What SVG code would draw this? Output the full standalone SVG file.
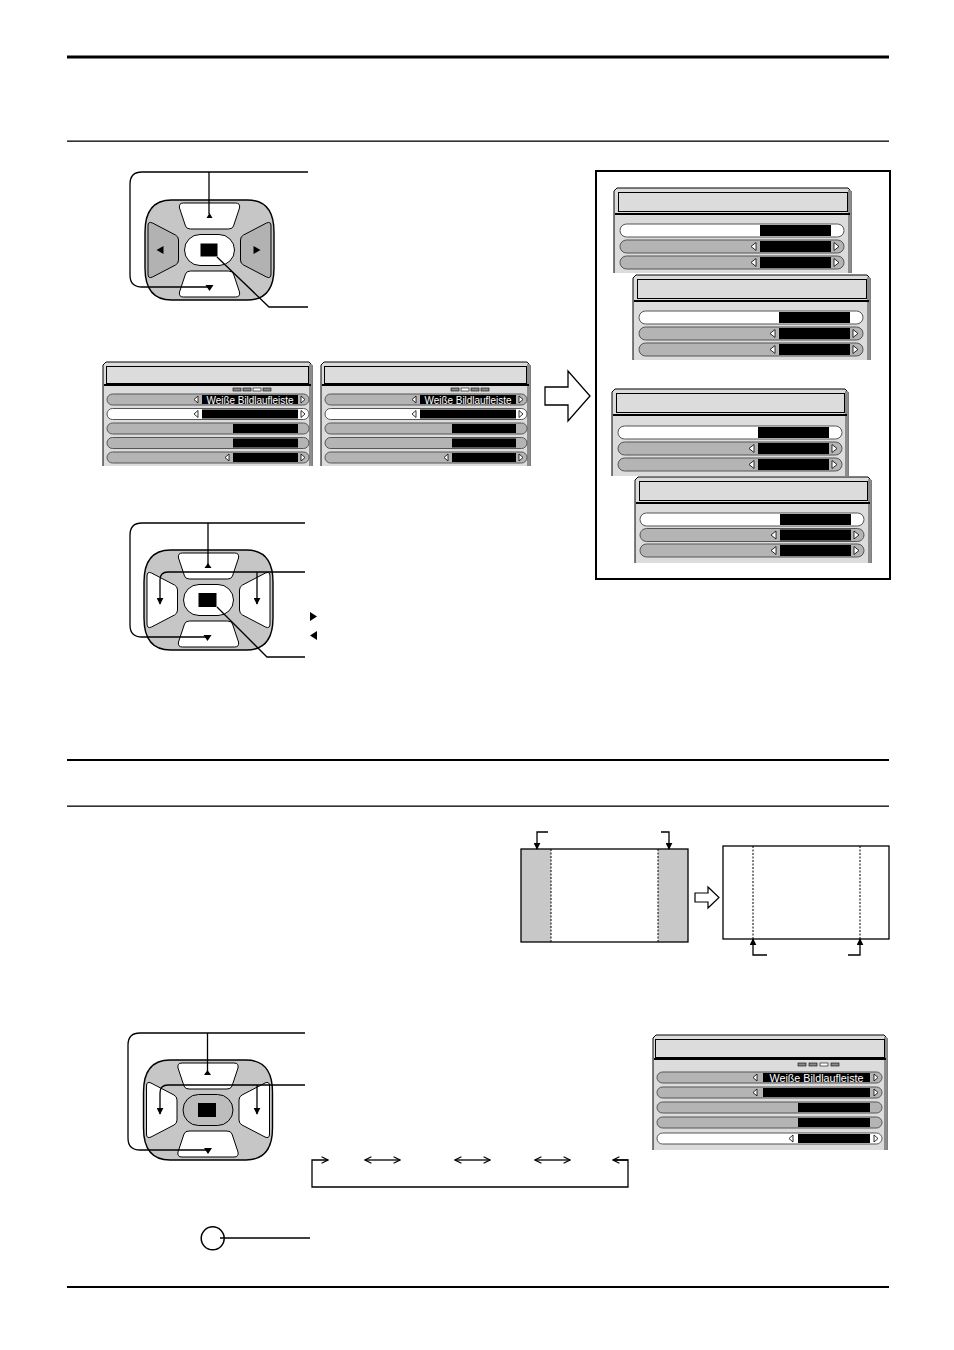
<svg xmlns="http://www.w3.org/2000/svg" xmlns:xlink="http://www.w3.org/1999/xlink" width="954" height="1350" viewBox="0 0 954 1350">
<style>
.ln{stroke:#000;stroke-width:1.3;fill:none}
.og{fill:#c6c6c6;stroke:#000;stroke-width:1.4}
.bw{fill:#fff;stroke:#000;stroke-width:1}
.bg{fill:#b2b2b2;stroke:#000;stroke-width:1}
.cg{fill:#bdbdbd;stroke:#000;stroke-width:1}
.mf{fill:#dcdcdc;stroke:#000;stroke-width:1}
.ms{fill:#8c8c8c}
.mt{fill:#dcdcdc;stroke:#000;stroke-width:1}
.rg{fill:#b4b4b4;stroke:#555;stroke-width:1}
.rw{fill:#fff;stroke:#555;stroke-width:1}
.bk{fill:#000}
.tri{fill:#fff;stroke:#000;stroke-width:0.8}
.ind{fill:#8a8a8a;stroke:#000;stroke-width:0.6}
.indw{fill:#fff;stroke:#000;stroke-width:0.6}
.wt{font-family:"Liberation Sans",Arial,sans-serif;font-size:10.5px;fill:#fff;text-anchor:middle}
.blk{fill:#000;stroke:none}
.dot{stroke:#000;stroke-width:1;stroke-dasharray:2,1.5;fill:none}
</style>
<defs>
<path id="pOuter" d="M-38,-50 H38 C58,-50 64.5,-36 64.5,-18 V18 C64.5,36 58,50 38,50 H-38 C-58,50 -64.5,36 -64.5,18 V-18 C-64.5,-36 -58,-50 -38,-50 Z"/>
<path id="pUp" d="M-26,-47 H26 Q31,-47 30,-42 L24,-24 Q23,-21 19,-21 H-19 Q-23,-21 -24,-24 L-30,-42 Q-31,-47 -26,-47 Z"/>
<path id="pLeft" d="M-57,-27 L-34,-15 Q-31,-13.5 -31,-10 V10 Q-31,13.5 -34,15 L-57,27 Q-61.5,29 -61.5,24 V-24 Q-61.5,-29 -57,-27 Z"/>
<rect id="pCenter" x="-25" y="-15.5" width="50" height="31" rx="15.5"/>
<marker id="ah" viewBox="0 0 10 10" refX="9" refY="5" markerWidth="7" markerHeight="7" orient="auto" markerUnits="userSpaceOnUse">
<path d="M0,0 L10,5 L0,10 Z" fill="#000"/>
</marker>
<marker id="oa" viewBox="0 0 10 10" refX="9" refY="5" markerWidth="8" markerHeight="8" orient="auto" markerUnits="userSpaceOnUse">
<path d="M1,1 L9,5 L1,9" fill="none" stroke="#000" stroke-width="1.4"/>
</marker>
</defs>

<g id="rules">
<rect x="67" y="55.5" width="822" height="3" fill="#000"/>
<rect x="67" y="140.5" width="822" height="1.3" fill="#000"/>
<rect x="67" y="759" width="822" height="2" fill="#000"/>
<rect x="67" y="805.5" width="822" height="1.3" fill="#000"/>
<rect x="67" y="1286" width="822" height="2" fill="#000"/>
</g>

<g id="remote1" transform="translate(209.5,250)">
<use xlink:href="#pOuter" class="og"/>
<use xlink:href="#pUp" class="bw"/>
<use xlink:href="#pUp" class="bw" transform="scale(1,-1)"/>
<use xlink:href="#pLeft" class="bg"/>
<use xlink:href="#pLeft" class="bg" transform="scale(-1,1)"/>
<use xlink:href="#pCenter" class="bw"/>
<rect x="-9" y="-6.5" width="17" height="13" class="blk"/>
<polygon points="-3,-32 3,-32 0,-37" class="blk"/>
<polygon points="-4,35 4,35 0,41" class="blk"/>
<polygon points="-53,0 -46,-4 -46,4" class="blk"/>
<polygon points="44,-4 44,4 51,0" class="blk"/>
</g>

<g id="remote2" transform="translate(208.5,600)">
<use xlink:href="#pOuter" class="og"/>
<use xlink:href="#pUp" class="bw"/>
<use xlink:href="#pUp" class="bw" transform="scale(1,-1)"/>
<use xlink:href="#pLeft" class="bw"/>
<use xlink:href="#pLeft" class="bw" transform="scale(-1,1)"/>
<use xlink:href="#pCenter" class="bw"/>
<rect x="-10" y="-7" width="18" height="14" class="blk"/>
<polygon points="-4,-32 3,-32 -0.5,-37" class="blk"/>
<polygon points="-5,35 3,35 -1,41" class="blk"/>
</g>

<g id="remote3" transform="translate(208,1110)">
<use xlink:href="#pOuter" class="og"/>
<use xlink:href="#pUp" class="bw"/>
<use xlink:href="#pUp" class="bw" transform="scale(1,-1)"/>
<use xlink:href="#pLeft" class="bw"/>
<use xlink:href="#pLeft" class="bw" transform="scale(-1,1)"/>
<use xlink:href="#pCenter" class="cg"/>
<rect x="-10" y="-7" width="18" height="14" class="blk"/>
<polygon points="-4,-35 3,-35 -0.5,-40" class="blk"/>
<polygon points="-4,38 4,38 0,44" class="blk"/>
</g>

<g id="panel1">
<path class="mf" d="M103,466 V365 L106,362 H309 L312,365 V466"/>
<rect class="ms" x="309" y="364" width="3" height="102"/>
<rect class="mt" x="106.5" y="366.5" width="202" height="17"/>
<line x1="104" y1="385" x2="311" y2="385" stroke="#000" stroke-width="2"/>
<rect class="ind" x="233" y="388" width="8" height="3"/>
<rect class="ind" x="243" y="388" width="8" height="3"/>
<rect class="indw" x="253" y="388" width="8" height="3"/>
<rect class="ind" x="263" y="388" width="8" height="3"/>
<rect class="rg" x="107" y="394" width="202" height="11" rx="5.5"/>
<rect class="bk" x="202" y="395" width="96" height="9"/>
<text class="wt" x="250" y="403.5" textLength="87" lengthAdjust="spacingAndGlyphs">Weiße Bildlaufleiste</text>
<polygon class="tri" points="194,399.5 198,396 198,403"/>
<polygon class="tri" points="305,399.5 301,396 301,403"/>
<rect class="rw" x="107" y="408.5" width="202" height="11" rx="5.5"/>
<rect class="bk" x="202" y="409.5" width="96" height="9"/>
<polygon class="tri" points="194,414 198,410.5 198,417.5"/>
<polygon class="tri" points="305,414 301,410.5 301,417.5"/>
<rect class="rg" x="107" y="423" width="202" height="11" rx="5.5"/>
<rect class="bk" x="233" y="424" width="65" height="9"/>
<rect class="rg" x="107" y="437.5" width="202" height="11" rx="5.5"/>
<rect class="bk" x="233" y="438.5" width="65" height="9"/>
<rect class="rg" x="107" y="452" width="202" height="11" rx="5.5"/>
<rect class="bk" x="233" y="453" width="65" height="9"/>
<polygon class="tri" points="225,457.5 229,454 229,461"/>
<polygon class="tri" points="305,457.5 301,454 301,461"/>
</g>

<g id="panel2">
<path class="mf" d="M321,466 V365 L324,362 H527 L530,365 V466"/>
<rect class="ms" x="527" y="364" width="3" height="102"/>
<rect class="mt" x="324.5" y="366.5" width="202" height="17"/>
<line x1="322" y1="385" x2="529" y2="385" stroke="#000" stroke-width="2"/>
<rect class="ind" x="451" y="388" width="8" height="3"/>
<rect class="indw" x="461" y="388" width="8" height="3"/>
<rect class="ind" x="471" y="388" width="8" height="3"/>
<rect class="ind" x="481" y="388" width="8" height="3"/>
<rect class="rg" x="325" y="394" width="202" height="11" rx="5.5"/>
<rect class="bk" x="420" y="395" width="96" height="9"/>
<text class="wt" x="468" y="403.5" textLength="87" lengthAdjust="spacingAndGlyphs">Weiße Bildlaufleiste</text>
<polygon class="tri" points="412,399.5 416,396 416,403"/>
<polygon class="tri" points="523,399.5 519,396 519,403"/>
<rect class="rw" x="325" y="408.5" width="202" height="11" rx="5.5"/>
<rect class="bk" x="420" y="409.5" width="96" height="9"/>
<polygon class="tri" points="412,414 416,410.5 416,417.5"/>
<polygon class="tri" points="523,414 519,410.5 519,417.5"/>
<rect class="rg" x="325" y="423" width="202" height="11" rx="5.5"/>
<rect class="bk" x="452" y="424" width="64" height="9"/>
<rect class="rg" x="325" y="437.5" width="202" height="11" rx="5.5"/>
<rect class="bk" x="452" y="438.5" width="64" height="9"/>
<rect class="rg" x="325" y="452" width="202" height="11" rx="5.5"/>
<rect class="bk" x="452" y="453" width="64" height="9"/>
<polygon class="tri" points="444,457.5 448,454 448,461"/>
<polygon class="tri" points="523,457.5 519,454 519,461"/>
</g>

<g id="bigArrow">
<polygon points="545,387 568,387 568,371 590,396 568,421 568,405 545,405" fill="#fff" stroke="#000" stroke-width="1.3"/>
</g>

<g id="rightFrame">
<rect x="596" y="171" width="294" height="408" fill="none" stroke="#000" stroke-width="2"/>
</g>

<g id="menuA">
<path class="mf" d="M614,273 V191 L617,188 H848 L851,191 V273"/>
<rect class="ms" x="848" y="190" width="3" height="83"/>
<rect class="mt" x="618.5" y="192.5" width="229" height="19"/>
<line x1="615" y1="214" x2="850" y2="214" stroke="#000" stroke-width="2"/>
<rect class="rw" x="620" y="224" width="224" height="13" rx="6.5"/>
<rect class="bk" x="760" y="225" width="71" height="11"/>
<rect class="rg" x="620" y="240" width="224" height="13" rx="6.5"/>
<rect class="bk" x="760" y="241" width="71" height="11"/>
<polygon class="tri" points="751,246.5 756,242.5 756,250.5"/>
<polygon class="tri" points="839,246.5 834,242.5 834,250.5"/>
<rect class="rg" x="620" y="256" width="224" height="13" rx="6.5"/>
<rect class="bk" x="760" y="257" width="71" height="11"/>
<polygon class="tri" points="751,262.5 756,258.5 756,266.5"/>
<polygon class="tri" points="839,262.5 834,258.5 834,266.5"/>
</g>

<g id="menuB">
<path class="mf" d="M633,360 V278 L636,275 H867 L870,278 V360"/>
<rect class="ms" x="867" y="277" width="3" height="83"/>
<rect class="mt" x="637.5" y="279.5" width="229" height="19"/>
<line x1="634" y1="301" x2="869" y2="301" stroke="#000" stroke-width="2"/>
<rect class="rw" x="639" y="311" width="224" height="13" rx="6.5"/>
<rect class="bk" x="779" y="312" width="71" height="11"/>
<rect class="rg" x="639" y="327" width="224" height="13" rx="6.5"/>
<rect class="bk" x="779" y="328" width="71" height="11"/>
<polygon class="tri" points="770,333.5 775,329.5 775,337.5"/>
<polygon class="tri" points="858,333.5 853,329.5 853,337.5"/>
<rect class="rg" x="639" y="343" width="224" height="13" rx="6.5"/>
<rect class="bk" x="779" y="344" width="71" height="11"/>
<polygon class="tri" points="770,349.5 775,345.5 775,353.5"/>
<polygon class="tri" points="858,349.5 853,345.5 853,353.5"/>
</g>

<g id="menuC">
<path class="mf" d="M612,476 V392 L615,389 H845 L848,392 V476"/>
<rect class="ms" x="845" y="391" width="3" height="85"/>
<rect class="mt" x="616.5" y="393.5" width="228" height="19"/>
<line x1="613" y1="415" x2="847" y2="415" stroke="#000" stroke-width="2"/>
<rect class="rw" x="618" y="426" width="224" height="13" rx="6.5"/>
<rect class="bk" x="758" y="427" width="71" height="11"/>
<rect class="rg" x="618" y="442" width="224" height="13" rx="6.5"/>
<rect class="bk" x="758" y="443" width="71" height="11"/>
<polygon class="tri" points="749,448.5 754,444.5 754,452.5"/>
<polygon class="tri" points="837,448.5 832,444.5 832,452.5"/>
<rect class="rg" x="618" y="458" width="224" height="13" rx="6.5"/>
<rect class="bk" x="758" y="459" width="71" height="11"/>
<polygon class="tri" points="749,464.5 754,460.5 754,468.5"/>
<polygon class="tri" points="837,464.5 832,460.5 832,468.5"/>
</g>

<g id="menuD">
<path class="mf" d="M635,563 V480 L638,477 H868 L871,480 V563"/>
<rect class="ms" x="868" y="479" width="3" height="84"/>
<rect class="mt" x="639.5" y="481.5" width="228" height="19"/>
<line x1="636" y1="503" x2="870" y2="503" stroke="#000" stroke-width="2"/>
<rect class="rw" x="640" y="513" width="224" height="13" rx="6.5"/>
<rect class="bk" x="780" y="514" width="71" height="11"/>
<rect class="rg" x="640" y="528.5" width="224" height="13" rx="6.5"/>
<rect class="bk" x="780" y="529.5" width="71" height="11"/>
<polygon class="tri" points="771,535 776,531 776,539"/>
<polygon class="tri" points="859,535 854,531 854,539"/>
<rect class="rg" x="640" y="544" width="224" height="13" rx="6.5"/>
<rect class="bk" x="780" y="545" width="71" height="11"/>
<polygon class="tri" points="771,550.5 776,546.5 776,554.5"/>
<polygon class="tri" points="859,550.5 854,546.5 854,554.5"/>
</g>

<g id="screenBefore">
<rect x="521" y="849" width="167" height="93" fill="#fff"/>
<rect x="521" y="849" width="30" height="93" fill="#c8c8c8"/>
<rect x="658" y="849" width="30" height="93" fill="#c8c8c8"/>
<line class="dot" x1="551" y1="849" x2="551" y2="942"/>
<line class="dot" x1="658" y1="849" x2="658" y2="942"/>
<rect x="521" y="849" width="167" height="93" fill="none" stroke="#000" stroke-width="1.3"/>
</g>

<g id="smallArrow">
<polygon points="695,893 708,893 708,887 719,897.5 708,908 708,902 695,902" fill="#fff" stroke="#000" stroke-width="1.2"/>
</g>

<g id="screenAfter">
<rect x="723" y="846" width="166" height="93" fill="#fff" stroke="#000" stroke-width="1.3"/>
<line class="dot" x1="753" y1="846" x2="753" y2="939"/>
<line class="dot" x1="860" y1="846" x2="860" y2="939"/>
</g>

<g id="menuBottom">
<path class="mf" d="M653,1150 V1038 L656,1035 H884 L887,1038 V1150"/>
<rect class="ms" x="884" y="1037" width="3" height="113"/>
<rect class="mt" x="655.5" y="1039.5" width="229" height="18"/>
<line x1="654" y1="1059" x2="886" y2="1059" stroke="#000" stroke-width="2"/>
<rect class="ind" x="798" y="1063" width="8" height="3"/>
<rect class="ind" x="809" y="1063" width="8" height="3"/>
<rect class="indw" x="820" y="1063" width="8" height="3"/>
<rect class="ind" x="831" y="1063" width="8" height="3"/>
<rect class="rg" x="657" y="1072" width="225" height="11" rx="5.5"/>
<rect class="bk" x="763" y="1073" width="107" height="9"/>
<text class="wt" x="816.5" y="1081.5" textLength="94" lengthAdjust="spacingAndGlyphs">Weiße Bildlaufleiste</text>
<polygon class="tri" points="753,1077.5 757,1074 757,1081"/>
<polygon class="tri" points="878,1077.5 874,1074 874,1081"/>
<rect class="rg" x="657" y="1087" width="225" height="11" rx="5.5"/>
<rect class="bk" x="763" y="1088" width="107" height="9"/>
<polygon class="tri" points="753,1092.5 757,1089 757,1096"/>
<polygon class="tri" points="878,1092.5 874,1089 874,1096"/>
<rect class="rg" x="657" y="1102" width="225" height="11" rx="5.5"/>
<rect class="bk" x="798" y="1103" width="72" height="9"/>
<rect class="rg" x="657" y="1117" width="225" height="11" rx="5.5"/>
<rect class="bk" x="798" y="1118" width="72" height="9"/>
<rect class="rw" x="657" y="1133" width="225" height="11" rx="5.5"/>
<rect class="bk" x="798" y="1134" width="72" height="9"/>
<polygon class="tri" points="789,1138.5 793,1135 793,1142"/>
<polygon class="tri" points="878,1138.5 874,1135 874,1142"/>
</g>

<g id="circleNode">
<circle cx="212.7" cy="1238.3" r="11.5" fill="#fff" stroke="#000" stroke-width="1.5"/>
</g>

<g id="connectors">
<path class="ln" d="M209,287 H142 Q130,287 130,275 V184 Q130,172 142,172 H308"/>
<path class="ln" d="M209,172 V214"/>
<path class="ln" d="M217,257 L269,307 H308"/>
<path class="ln" d="M207,637 H142 Q130,637 130,625 V535 Q130,523 142,523 H305"/>
<path class="ln" d="M208,523 V565"/>
<path class="ln" d="M305,572 H168 Q160,572 160,580 V604" marker-end="url(#ah)"/>
<path class="ln" d="M257,572 V604" marker-end="url(#ah)"/>
<path class="ln" d="M217,607 L267,657 H305"/>
<polygon points="310,612 310,621 317,616.5" class="blk"/>
<polygon points="317,631 317,640 310,635.5" class="blk"/>
<path class="ln" d="M207,1150 H140 Q128,1150 128,1138 V1045 Q128,1033 140,1033 H305"/>
<path class="ln" d="M207.5,1033 V1071"/>
<path class="ln" d="M305,1085 H168 Q160,1085 160,1093 V1114" marker-end="url(#ah)"/>
<path class="ln" d="M257,1085 V1114" marker-end="url(#ah)"/>
<path class="ln" d="M548,832 H537 V849" marker-end="url(#ah)"/>
<path class="ln" d="M661,832 H669 V849" marker-end="url(#ah)"/>
<path class="ln" d="M767,955 H753 V939" marker-end="url(#ah)"/>
<path class="ln" d="M848,955 H860 V939" marker-end="url(#ah)"/>
<path class="ln" d="M613,1160 H628 V1187 H312 V1160 H328" marker-end="url(#oa)"/>
<path class="ln" d="M628,1160 H613" marker-end="url(#oa)"/>
<path class="ln" d="M383,1160 H400" marker-end="url(#oa)"/>
<path class="ln" d="M383,1160 H365" marker-end="url(#oa)"/>
<path class="ln" d="M473,1160 H490" marker-end="url(#oa)"/>
<path class="ln" d="M473,1160 H455" marker-end="url(#oa)"/>
<path class="ln" d="M553,1160 H570" marker-end="url(#oa)"/>
<path class="ln" d="M553,1160 H535" marker-end="url(#oa)"/>
<path class="ln" d="M220,1238 H310"/>
</g>
</svg>
